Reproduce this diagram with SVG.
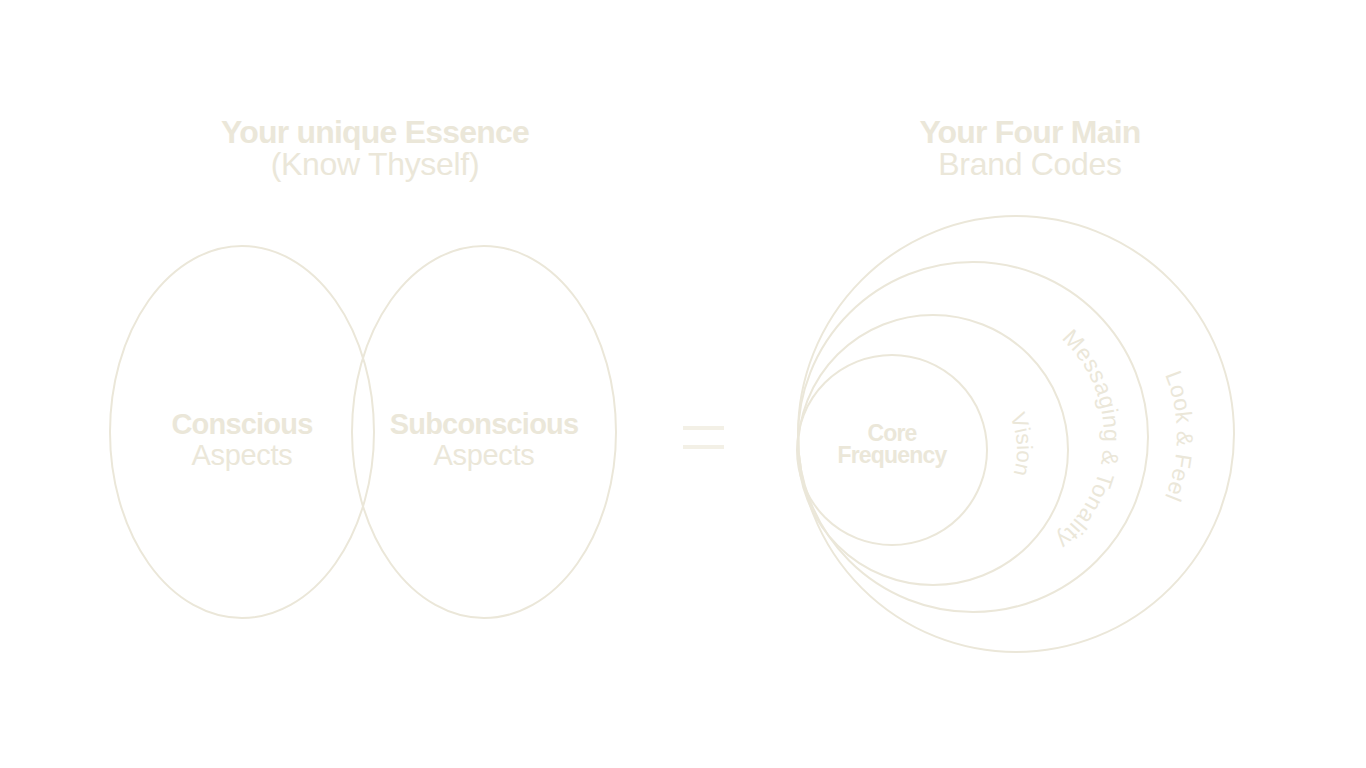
<svg xmlns="http://www.w3.org/2000/svg" width="1366" height="768" viewBox="0 0 1366 768">
<style>
.s{fill:none;stroke:#ebe7d9;stroke-width:2}
text{fill:#ebe7d9;font-family:"Liberation Sans",Arial,sans-serif;text-anchor:middle}
.b{font-weight:bold;letter-spacing:-0.8px}
.r{letter-spacing:-0.3px}
</style>
<rect width="1366" height="768" fill="#fff"/>
<g id="title-left"><text class="b" x="375" y="143" font-size="32">Your unique Essence</text><text class="r" x="375" y="175" font-size="32">(Know Thyself)</text></g>
<g id="title-right"><text class="b" x="1030" y="143" font-size="32">Your Four Main</text><text class="r" x="1030" y="175" font-size="32">Brand Codes</text></g>
<g id="conscious"><ellipse class="s" cx="242" cy="432" rx="132" ry="186"/><text class="b" x="242" y="434" font-size="29">Conscious</text><text class="r" x="242" y="465" font-size="29">Aspects</text></g>
<g id="subconscious"><ellipse class="s" cx="484" cy="432" rx="132" ry="186"/><text class="b" x="484" y="434" font-size="29">Subconscious</text><text class="r" x="484" y="465" font-size="29">Aspects</text></g>
<g id="equals"><rect x="683" y="426" width="41" height="4" fill="#f3f0e6"/><rect x="683" y="445" width="41" height="4" fill="#f3f0e6"/></g>
<defs>
<path id="pv" d="M933,366 A84,84 0 0 1 933,534"/>
<path id="pm" d="M973,305 A131,131 0 0 1 973,567"/>
<path id="pl" d="M1016,275 A161,161 0 0 1 1016,597"/>
</defs>
<g id="look-feel"><circle class="s" cx="1016" cy="434" r="218"/><text font-size="23" letter-spacing="0.3"><textPath href="#pl" startOffset="50%">Look &amp; Feel</textPath></text></g>
<g id="messaging"><circle class="s" cx="973" cy="437" r="175"/><text font-size="23" letter-spacing="0.5"><textPath href="#pm" startOffset="51%">Messaging &amp; Tonality</textPath></text></g>
<g id="vision"><circle class="s" cx="933" cy="450" r="135"/><text font-size="22"><textPath href="#pv" startOffset="48%">Vision</textPath></text></g>
<g id="core"><circle class="s" cx="892" cy="450" r="95"/><text class="b" x="892" y="441" font-size="23">Core</text><text class="b" x="892" y="463" font-size="23">Frequency</text></g>
<g id="connectors"/>
</svg>
